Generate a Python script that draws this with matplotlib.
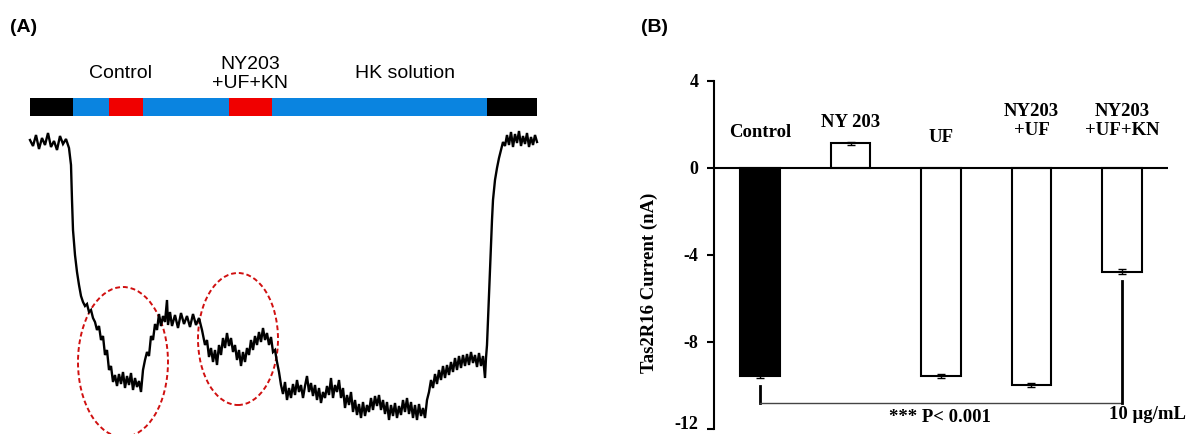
import matplotlib.pyplot as plt
import numpy as np
from matplotlib.patches import Ellipse, Rectangle

plt.rcParams['axes.unicode_minus'] = False

# ---- panel A : current trace (time in s, current in arbitrary units) ----
trace_t = [0, 3, 6, 9, 12, 15, 18, 21, 24, 27, 30, 33, 36, 39,
           41, 42, 43, 45, 47, 49, 51, 53, 55, 57, 59, 61, 63, 65, 67, 69,
           71, 73, 75, 77, 79, 81, 83, 85, 87, 89, 91, 93, 95, 97, 99,
           101, 103, 105, 107, 109, 111, 113, 115, 117, 119, 121, 123, 125,
           127, 129, 131, 133, 135, 137, 138, 140, 142, 145, 148, 151, 154,
           157, 160, 163, 166, 169, 172, 175, 177, 179, 181, 183, 185, 187,
           189, 191, 193, 195, 197, 199, 201, 203, 205, 207, 209, 211, 213,
           215, 217, 219, 221, 223, 225, 227, 229, 231, 233, 235, 237, 239,
           241, 243, 245, 247, 249, 251, 253, 255, 257, 259, 261, 263, 265,
           267, 269, 271, 273, 275, 277, 279, 281, 283, 285, 287, 289, 291,
           293, 295, 297, 299, 301, 303, 305, 307, 309, 311, 313, 315, 317,
           319, 321, 323, 325, 327, 329, 331, 333, 335, 337, 339, 341, 343,
           345, 347, 349, 351, 353, 355, 357, 359, 361, 363, 365, 367, 369,
           371, 373, 375, 377, 379, 381, 383, 385, 387, 389, 391, 393, 395,
           397, 399, 401, 403, 405, 407, 409, 411, 413, 415, 417, 419, 421,
           423, 425, 427, 429, 431, 433, 435, 437, 439, 441, 443, 445, 447,
           449, 451, 453, 455, 456, 457, 458, 459, 460, 461, 462, 463, 465,
           467, 469, 471, 473, 475, 477, 479, 481, 483, 485, 487, 489, 491,
           493, 495, 497, 499, 501, 503, 505, 507]
trace_i = [0, -6, 5, -9, 2, -5, 7, -7, -1, -10, 4, -4, 1, -8,
           -25, -60, -90, -115, -132, -145, -156, -162, -166, -164, -172, -170,
           -178, -182, -190, -186, -200, -196, -215, -210, -230, -226, -242,
           -235, -246, -234, -244, -232, -248, -236, -245, -233, -250, -238,
           -247, -241, -252, -230, -220, -212, -216, -196, -200, -184, -190,
           -174, -186, -176, -182, -160, -185, -172, -186, -175, -188, -173,
           -184, -176, -187, -174, -185, -178, -190, -205, -200, -217, -208,
           -222, -210, -225, -205, -215, -198, -208, -193, -206, -198, -212,
           -205, -220, -210, -226, -212, -222, -208, -215, -200, -210, -196,
           -205, -192, -202, -188, -200, -193, -205, -197, -212, -210, -222,
           -232, -245, -254, -242, -260, -248, -258, -244, -255, -240, -252,
           -245, -258, -246, -236, -252, -243, -256, -245, -260, -248, -263,
           -252, -258, -246, -255, -238, -258, -245, -252, -240, -258, -248,
           -268, -255, -265, -252, -272, -260, -275, -264, -278, -262, -276,
           -265, -272, -258, -270, -256, -266, -255, -270, -260, -274, -262,
           -280, -265, -276, -263, -278, -266, -275, -260, -272, -258, -274,
           -262, -278, -265, -280, -264, -276, -268, -278, -260, -252, -240,
           -248, -234, -244, -230, -240, -226, -238, -225, -235, -222, -232,
           -218, -230, -216, -228, -215, -226, -214, -225, -212, -223, -215,
           -227, -213, -226, -216, -238, -218, -205, -180, -155, -130, -105,
           -80, -60, -40, -28, -18, -10, -2, -6, 5, -5, 8, -7, 6, -3, 9, -6,
           4, -4, 7, -7, 3, -5, 5, -2]

# solution protocol bar: (start, end, colour)
protocol = [(0, 43, 'black'), (43, 457, '#0a84e0'), (457, 507, 'black'),
            (79, 113, '#f00000'), (199, 242, '#f00000')]
protocol_labels = ['Control', 'NY203\n+UF+KN', 'HK solution']
protocol_label_t = [91, 220, 375]

# ---- panel B : bar chart ----
groups = ['Control', 'NY 203', 'UF', 'NY203\n+UF', 'NY203\n+UF+KN']
currents = [-9.58, 1.12, -9.58, -9.99, -4.78]
errors = [0.1, 0.08, 0.1, 0.1, 0.1]
label_y = [1.6, 2.1, 1.37, 2.15, 2.15]

fig = plt.figure(figsize=(11.95, 4.34), dpi=100)

# panel A
axA = fig.add_axes([0, 0, 560 / 1195, 1])
axA.set_xlim(-30, 530)
axA.set_ylim(-294, 140)
axA.axis('off')
axA.plot(trace_t, trace_i, color='black', lw=1.7, solid_joinstyle='miter')
for s, e, c in protocol:
    axA.add_patch(Rectangle((s, 24), e - s, 18, color=c, lw=0))
for lab, t in zip(protocol_labels, protocol_label_t):
    axA.text(t, 66, lab, ha='center', va='center', fontsize=14,
             family='Liberation Sans', linespacing=1.15)
axA.add_patch(Ellipse((93, -222), 90, 150, fill=False, ec='#d01010',
                      ls=(0, (2.5, 1.5)), lw=1.4))
axA.add_patch(Ellipse((208, -199), 80, 132, fill=False, ec='#d01010',
                      ls=(0, (2.5, 1.5)), lw=1.4))
fig.text(10 / 1195, 1 - 27 / 434, '(A)', fontsize=14, fontweight='bold',
         family='Liberation Sans', va='center')

# panel B
axB = fig.add_axes([714 / 1195, (434 - 428.7) / 434, 454 / 1195, 348 / 434])
x = np.arange(len(groups))
colors = ['black', 'white', 'white', 'white', 'white']
axB.bar(x, currents, width=0.44, color=colors, edgecolor='black', lw=1.5,
        yerr=errors, capsize=3, error_kw=dict(lw=1, capthick=1), zorder=2)
axB.axhline(0, color='black', lw=1.5, zorder=3)
axB.set_xlim(-0.51, 4.51)
axB.set_ylim(-12, 4)
axB.set_yticks([4, 0, -4, -8, -12])
axB.set_xticks([])
for sp in ['top', 'right', 'bottom']:
    axB.spines[sp].set_visible(False)
axB.spines['left'].set_linewidth(1.5)
axB.tick_params(axis='y', direction='out', length=5, width=1.5, pad=6)
for lab in axB.get_yticklabels():
    lab.set_fontfamily('Liberation Serif')
    lab.set_fontweight('bold')
    lab.set_fontsize(13)
# keep the lowest label inside the picture
axB.get_yticklabels()[-1].set_verticalalignment('baseline')
axB.set_ylabel('Tas2R16 Current (nA)', fontsize=13.5, fontweight='bold',
               family='Liberation Serif')
axB.yaxis.set_label_coords(-0.123, 0.42)

for xi, g, ly in zip(x, groups, label_y):
    axB.text(xi, ly, g, ha='center', va='center', fontsize=13.5,
             fontweight='bold', family='Liberation Serif', linespacing=1.15)

# significance bracket
axB.plot([0, 0], [-10.04, -10.82], color='black', lw=2, clip_on=False)
axB.plot([0, 4], [-10.82, -10.82], color='#444444', lw=1, clip_on=False)
axB.plot([4, 4], [-10.82, -5.21], color='black', lw=2, clip_on=False)
axB.text(1.99, -11.5, '*** P< 0.001', ha='center', va='center', fontsize=13.5,
         fontweight='bold', family='Liberation Serif')
axB.text(4.28, -11.37, '10 μg/mL', ha='center', va='center', fontsize=13.5,
         fontweight='bold', family='Liberation Serif', clip_on=False)

fig.text(655 / 1195, 1 - 27 / 434, '(B)', fontsize=14, fontweight='bold',
         family='Liberation Sans', va='center', ha='center')

fig.savefig('out.png', dpi=100)
